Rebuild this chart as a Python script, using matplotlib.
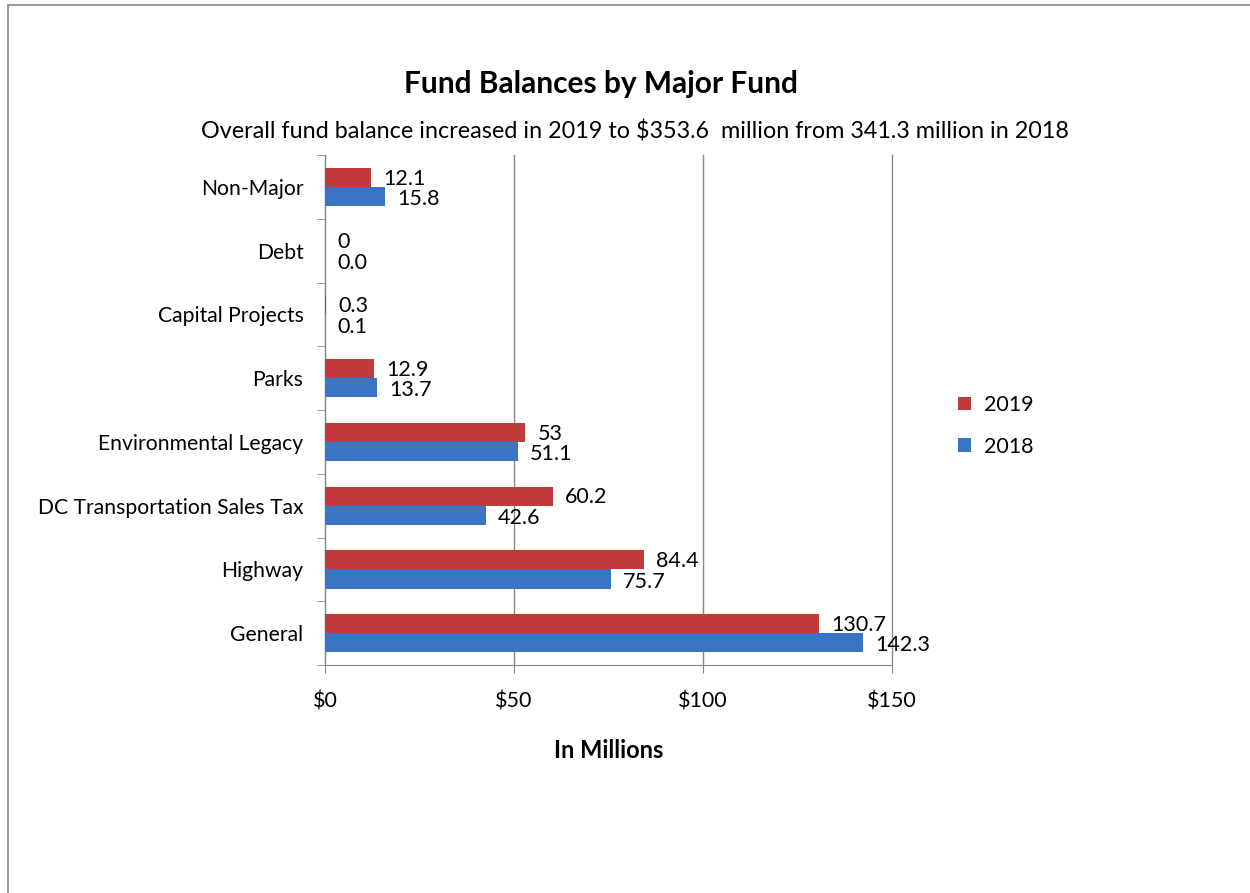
import numpy as np
import matplotlib
matplotlib.use("Agg")
import matplotlib.pyplot as plt
from matplotlib.patches import Rectangle

plt.rcParams['font.family'] = ['Lato', 'DejaVu Sans']

# data, bottom to top
funds = ['General', 'Highway', 'DC Transportation Sales Tax', 'Environmental Legacy',
         'Parks', 'Capital Projects', 'Debt', 'Non-Major']
vals_2019 = [130.7, 84.4, 60.2, 53, 12.9, 0.3, 0, 12.1]
vals_2018 = [142.3, 75.7, 42.6, 51.1, 13.7, 0.1, 0.0, 15.8]
text_2019 = ['130.7', '84.4', '60.2', '53', '12.9', '0.3', '0', '12.1']
text_2018 = ['142.3', '75.7', '42.6', '51.1', '13.7', '0.1', '0.0', '15.8']
xticks = [0, 50, 100, 150]
xtick_labels = ['$0', '$50', '$100', '$150']

red = '#C23B3B'
blue = '#3A74C4'

fig = plt.figure(figsize=(12.5, 8.93), dpi=100)
ax = fig.add_axes([0.26, 0.2553, 0.4536, 0.5711])

y = np.arange(len(funds))
h = 0.3
ax.barh(y + h / 2, vals_2019, height=h, color=red, label='2019', zorder=3)
ax.barh(y - h / 2, vals_2018, height=h, color=blue, label='2018', zorder=3)

for i in range(len(funds)):
    ax.text(vals_2019[i] + 3.2, y[i] + h / 2 - 0.02, text_2019[i], va='center', ha='left',
            fontsize=15.5, color='black')
    ax.text(vals_2018[i] + 3.2, y[i] - h / 2 - 0.04, text_2018[i], va='center', ha='left',
            fontsize=15.5, color='black')

ax.set_xlim(0, 150)
ax.set_ylim(-0.5, len(funds) - 0.5)
ax.set_xticks(xticks)
ax.set_xticklabels(xtick_labels, fontsize=15.5)
ax.set_yticks(y)
ax.set_yticklabels(funds, fontsize=15.2)
ax.tick_params(axis='y', length=0, pad=15.5)
ax.set_yticks(np.arange(-0.5, len(funds)), minor=True)
ax.tick_params(axis='y', which='minor', length=6, color='#888888', direction='out')
ax.tick_params(axis='x', length=6, color='#888888', direction='out', pad=13)
ax.xaxis.grid(True, color='#888888', linewidth=1.0, zorder=0)
for gl in ax.get_xgridlines():
    gl.set_clip_on(False)
for s in ['top', 'right']:
    ax.spines[s].set_visible(False)
for s in ['left', 'bottom']:
    ax.spines[s].set_color('#888888')

ax.set_xlabel('In Millions', fontsize=17, fontweight='bold', labelpad=20)

handles, labels = ax.get_legend_handles_labels()
fig.legend(handles, labels, loc='center left', bbox_to_anchor=(0.751, 0.523),
           frameon=False, fontsize=15.5, handlelength=0.6, handleheight=0.6,
           labelspacing=1.0, handletextpad=0.6)

fig.text(0.481, 0.906, 'Fund Balances by Major Fund', ha='center', va='center',
         fontsize=21.5, fontweight='bold')
fig.text(0.508, 0.853, 'Overall fund balance increased in 2019 to $353.6  million from 341.3 million in 2018',
         ha='center', va='center', fontsize=16.8)

# outer chart border
fig.patches.append(Rectangle((0.0064, -0.01), 1.2, 1.0044, transform=fig.transFigure,
                             fill=False, edgecolor='#888888', linewidth=1.2))

fig.savefig('out.png', dpi=100)
